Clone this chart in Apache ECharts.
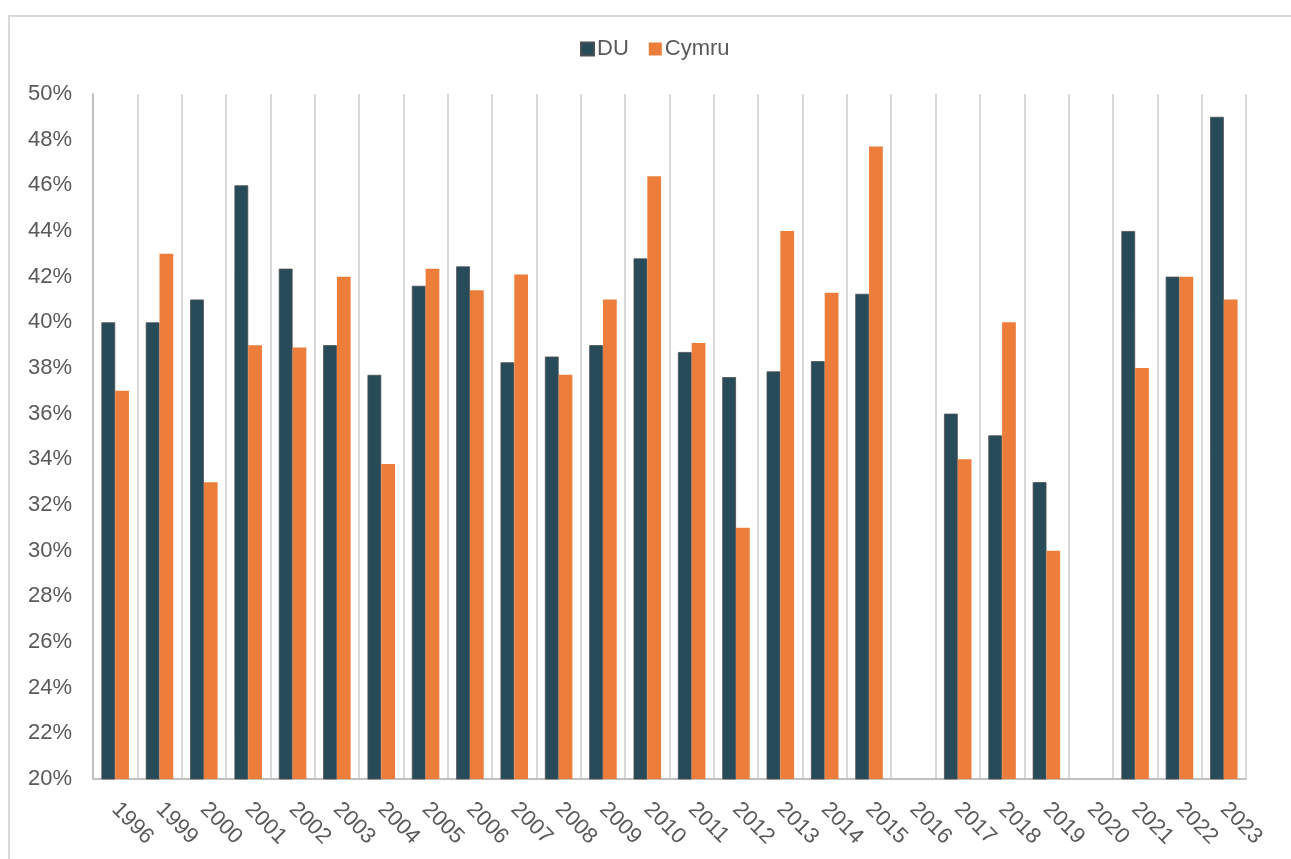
<!DOCTYPE html>
<html>
<head>
<meta charset="utf-8">
<script src="https://cdn.jsdelivr.net/npm/echarts@6/dist/echarts.min.js"></script>
<style>
  html, body { margin: 0; padding: 0; background: #fff; overflow: hidden; }
  #frame {
    position: absolute; left: 8px; top: 15px; width: 1300px; height: 860px;
    border: 2px solid #d9d9d9; box-sizing: border-box;
  }
  #chart { position: absolute; left: 0; top: 0; width: 1291px; height: 859px; }
</style>
</head>
<body>
<div id="frame"></div>
<div id="chart"></div>
<script>
// blynyddoedd (categories)
const years = ["1996", "1999", "2000", "2001", "2002", "2003", "2004", "2005", "2006", "2007",
  "2008", "2009", "2010", "2011", "2012", "2013", "2014", "2015", "2016", "2017",
  "2018", "2019", "2020", "2021", "2022", "2023"];

// DU (%)
const duValues = [40.0, 40.0, 41.0, 46.0, 42.35, 39.0, 37.7, 41.6, 42.45, 38.25,
  38.5, 39.0, 42.8, 38.7, 37.6, 37.85, 38.3, 41.25, null, 36.0,
  35.05, 33.0, null, 44.0, 42.0, 49.0];

// Cymru (%)
const cymruValues = [37.0, 43.0, 33.0, 39.0, 38.9, 42.0, 33.8, 42.35, 41.4, 42.1,
  37.7, 41.0, 46.4, 39.1, 31.0, 44.0, 41.3, 47.7, null, 34.0,
  40.0, 30.0, null, 38.0, 42.0, 41.0];

const chart = echarts.init(document.getElementById("chart"));

const textColor = "#595959";
const fontFamily = "Liberation Sans, Arial, sans-serif";

const option = {
  animation: false,
  textStyle: { fontFamily: fontFamily },
  legend: {
    top: 33,
    left: 575,
    itemWidth: 13,
    itemHeight: 13,
    itemGap: 20,
    icon: "rect",
    textStyle: { fontSize: 22, color: textColor, fontFamily: fontFamily, padding: [0, 0, 0, -2] },
    data: ["DU", "Cymru"],
  },
  grid: {
    left: 93,
    right: 45,
    top: 94,
    bottom: 80,
    containLabel: false,
  },
  xAxis: {
    type: "category",
    data: years,
    boundaryGap: true,
    axisLine: { show: true, lineStyle: { color: "#bfbfbf", width: 2 } },
    axisTick: { show: false },
    splitLine: { show: true, lineStyle: { color: "#d9d9d9", width: 2 } },
    axisLabel: {
      rotate: -45,
      interval: 0,
      margin: 27,
      fontSize: 22,
      color: textColor,
      fontFamily: fontFamily,
    },
  },
  yAxis: {
    type: "value",
    min: 20,
    max: 50,
    interval: 2,
    axisLine: { show: true, lineStyle: { color: "#bfbfbf", width: 2 } },
    axisTick: { show: false },
    splitLine: { show: false },
    axisLabel: {
      formatter: "{value}%",
      fontSize: 22,
      margin: 21,
      color: textColor,
      fontFamily: fontFamily,
    },
  },
  series: [
    {
      name: "DU",
      type: "bar",
      data: duValues,
      barGap: "0%",
      barCategoryGap: "38%",
      itemStyle: { color: "#284b59", borderColor: "#4a4f52", borderWidth: 0.8 },
    },
    {
      name: "Cymru",
      type: "bar",
      data: cymruValues,
      itemStyle: { color: "#ed7d3b" },
    },
  ],
};

chart.setOption(option);
</script>
</body>
</html>
